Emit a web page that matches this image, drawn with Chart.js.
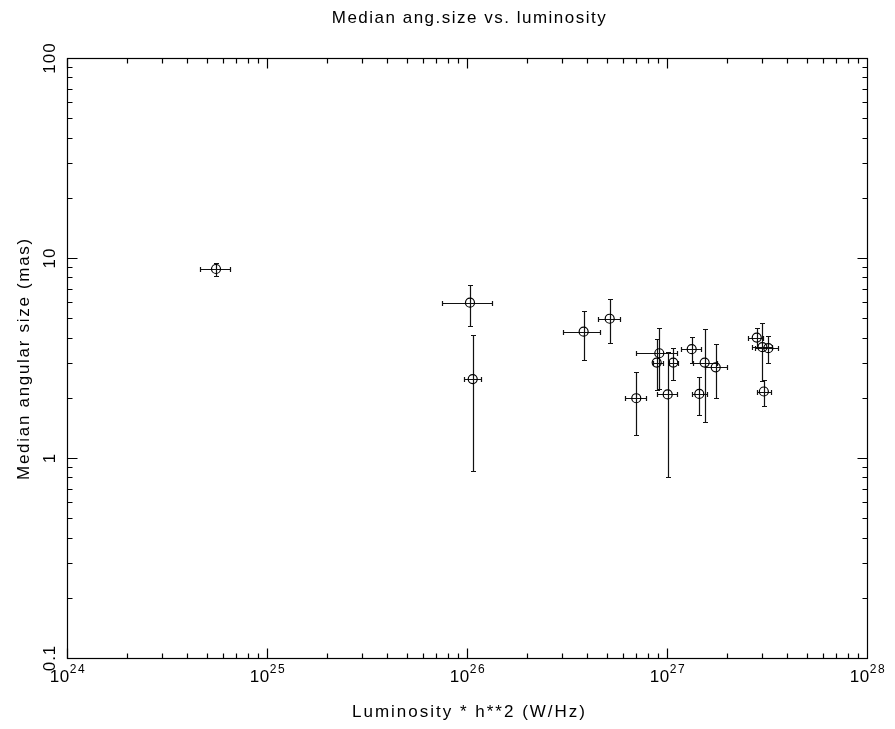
<!DOCTYPE html>
<html>
<head>
<meta charset="utf-8">
<script src="https://cdn.jsdelivr.net/npm/chart.js@4/dist/chart.umd.min.js"></script>
<style>
  html, body { margin: 0; padding: 0; background: #ffffff; }
  #wrap { width: 895px; height: 729px; }
</style>
</head>
<body>
<div id="wrap"><canvas id="c" width="895" height="729"></canvas></div>
<script>
// Luminosity * h^2 (W/Hz) and its error range
const luminosity = [5.56e24, 1.035e26, 1.068e26, 3.83e26, 5.17e26, 7.02e26, 9.15e26, 8.88e26, 1.075e27, 1.008e27, 1.329e27, 1.543e27, 1.752e27, 1.45e27, 2.81e27, 3.00e27, 3.21e27, 3.05e27];
const lumLow     = [4.62e24, 7.50e25, 9.69e25, 3.03e26, 4.50e26, 6.19e26, 7.02e26, 8.54e26, 1.02e27, 8.94e26, 1.171e27, 1.345e27, 1.549e27, 1.329e27, 2.55e27, 2.65e27, 2.75e27, 2.81e27];
const lumHigh    = [6.53e24, 1.33e26, 1.175e26, 4.64e26, 5.84e26, 7.88e26, 1.12e27, 9.52e26, 1.14e27, 1.118e27, 1.484e27, 1.772e27, 1.988e27, 1.59e27, 3.03e27, 3.35e27, 3.60e27, 3.31e27];

// Median angular size (mas) and its error range
const angSize  = [8.81, 5.98, 2.48, 4.28, 4.97, 1.99, 3.34, 3.00, 3.00, 2.08, 3.50, 3.00, 2.84, 2.09, 4.00, 3.58, 3.54, 2.15];
const sizeLow  = [8.13, 4.57, 0.86, 3.09, 3.76, 1.30, 2.21, 2.19, 2.45, 0.80, 2.98, 1.51, 1.99, 1.64, 3.60, 2.43, 3.00, 1.82];
const sizeHigh = [9.41, 7.36, 4.11, 5.45, 6.22, 2.68, 4.45, 3.92, 3.54, 3.38, 4.01, 4.43, 3.70, 2.53, 4.45, 4.75, 4.09, 2.45];

// Axis labelling
const xTickExponents = [24, 25, 26, 27, 28];
const yTickValues = [0.1, 1, 10, 100];
const yTickLabels = ['0.1', '1', '10', '100'];

const titleText = 'Median ang.size vs. luminosity';
const xTitleText = 'Luminosity * h**2 (W/Hz)';
const yTitleText = 'Median angular size (mas)';

const FONT = '"Liberation Sans", Arial, sans-serif';

// Error bars with small end caps
const errorBars = {
  id: 'errorBars',
  beforeDatasetsDraw(chart) {
    const ctx = chart.ctx;
    const xs = chart.scales.x, ys = chart.scales.y;
    const cap = 2.5;
    ctx.save();
    ctx.strokeStyle = '#111';
    ctx.lineWidth = 1.2;
    for (let i = 0; i < luminosity.length; i++) {
      const cx = Math.round(xs.getPixelForValue(luminosity[i])) + 0.5;
      const cy = Math.round(ys.getPixelForValue(angSize[i])) + 0.5;
      const x0 = Math.round(xs.getPixelForValue(lumLow[i])) + 0.5;
      const x1 = Math.round(xs.getPixelForValue(lumHigh[i])) + 0.5;
      const y0 = Math.round(ys.getPixelForValue(sizeLow[i])) + 0.5;
      const y1 = Math.round(ys.getPixelForValue(sizeHigh[i])) + 0.5;
      ctx.beginPath();
      ctx.moveTo(x0, cy); ctx.lineTo(x1, cy);
      ctx.moveTo(x0, cy - cap); ctx.lineTo(x0, cy + cap);
      ctx.moveTo(x1, cy - cap); ctx.lineTo(x1, cy + cap);
      ctx.moveTo(cx, y0); ctx.lineTo(cx, y1);
      ctx.moveTo(cx - cap, y0); ctx.lineTo(cx + cap, y0);
      ctx.moveTo(cx - cap, y1); ctx.lineTo(cx + cap, y1);
      ctx.stroke();
    }
    ctx.restore();
  }
};

// Box frame with inward ticks on all four sides, tick labels and titles
const frameAxes = {
  id: 'frameAxes',
  afterDraw(chart) {
    const ctx = chart.ctx;
    const a = chart.chartArea;
    const xs = chart.scales.x, ys = chart.scales.y;
    const L = Math.round(a.left) + 0.5, R = Math.round(a.right) + 0.5;
    const T = Math.round(a.top) + 0.5, B = Math.round(a.bottom) + 0.5;
    const major = 10, minor = 5;
    ctx.save();
    ctx.strokeStyle = '#000';
    ctx.lineWidth = 1.2;
    ctx.strokeRect(L, T, R - L, B - T);
    ctx.beginPath();
    // x ticks
    for (let e = xTickExponents[0]; e < xTickExponents[xTickExponents.length - 1]; e++) {
      for (let m = 1; m <= 9; m++) {
        const px = Math.round(xs.getPixelForValue(m * Math.pow(10, e))) + 0.5;
        const len = m === 1 ? major : minor;
        ctx.moveTo(px, B); ctx.lineTo(px, B - len);
        ctx.moveTo(px, T); ctx.lineTo(px, T + len);
      }
    }
    // y ticks
    for (let e = -1; e < 2; e++) {
      for (let m = 1; m <= 9; m++) {
        const py = Math.round(ys.getPixelForValue(m * Math.pow(10, e))) + 0.5;
        const len = m === 1 ? major : minor;
        ctx.moveTo(L, py); ctx.lineTo(L + len, py);
        ctx.moveTo(R, py); ctx.lineTo(R - len, py);
      }
    }
    ctx.stroke();

    ctx.fillStyle = '#000';
    // x tick labels: 10 with superscript exponent
    const baseFont = '17px ' + FONT, supFont = '12px ' + FONT;
    ctx.textBaseline = 'alphabetic';
    ctx.textAlign = 'left';
    xTickExponents.forEach(e => {
      const px = xs.getPixelForValue(Math.pow(10, e));
      ctx.letterSpacing = '0.5px';
      ctx.font = baseFont;
      const w1 = ctx.measureText('10').width;
      ctx.letterSpacing = '1.5px';
      ctx.font = supFont;
      const w2 = ctx.measureText(String(e)).width;
      const start = px - (w1 + w2) / 2 + 1;
      ctx.letterSpacing = '0.5px';
      ctx.font = baseFont;
      ctx.fillText('10', start, B + 23.5);
      ctx.letterSpacing = '1.5px';
      ctx.font = supFont;
      ctx.fillText(String(e), start + w1, B + 14.5);
    });
    // y tick labels, rotated
    ctx.letterSpacing = '1px';
    ctx.font = '17px ' + FONT;
    ctx.textAlign = 'center';
    ctx.textBaseline = 'alphabetic';
    yTickValues.forEach((v, i) => {
      const py = ys.getPixelForValue(v);
      ctx.save();
      ctx.translate(L - 13, py);
      ctx.rotate(-Math.PI / 2);
      ctx.fillText(yTickLabels[i], 0, 0);
      ctx.restore();
    });
    // titles
    ctx.letterSpacing = '1.5px';
    ctx.font = '17px ' + FONT;
    ctx.fillText(titleText, (L + R) / 2 + 2, 23);
    ctx.letterSpacing = '2px';
    ctx.fillText(xTitleText, (L + R) / 2 + 2, B + 58);
    ctx.letterSpacing = '1.7px';
    ctx.save();
    ctx.translate(29, (T + B) / 2);
    ctx.rotate(-Math.PI / 2);
    ctx.fillText(yTitleText, 0, 0);
    ctx.restore();
    ctx.restore();
  }
};

new Chart(document.getElementById('c'), {
  type: 'scatter',
  data: {
    datasets: [{
      data: luminosity.map((x, i) => ({ x: x, y: angSize[i] })),
      pointStyle: 'circle',
      pointRadius: 4.5,
      pointHoverRadius: 4.5,
      borderColor: '#000',
      backgroundColor: 'rgba(0,0,0,0)',
      borderWidth: 1.2
    }]
  },
  options: {
    responsive: false,
    animation: false,
    layout: { padding: { left: 67, right: 28, top: 58, bottom: 71 } },
    plugins: { legend: { display: false }, tooltip: { enabled: false }, title: { display: false } },
    scales: {
      x: { type: 'logarithmic', min: 1e24, max: 1e28, display: false },
      y: { type: 'logarithmic', min: 0.1, max: 100, display: false }
    }
  },
  plugins: [errorBars, frameAxes]
});
</script>
</body>
</html>
